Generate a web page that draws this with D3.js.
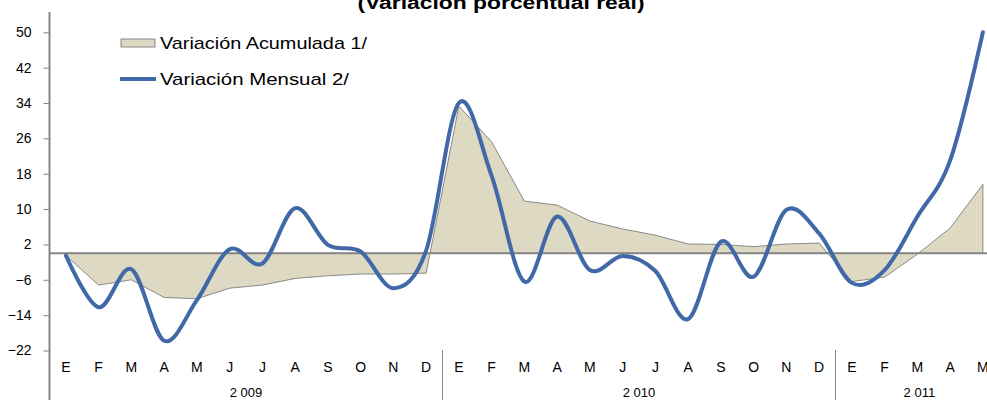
<!DOCTYPE html>
<html>
<head>
<meta charset="utf-8">
<script src="https://cdn.jsdelivr.net/npm/d3@7"></script>
<style>
  html, body { margin: 0; padding: 0; background: #fff; }
  svg { display: block; font-family: "Liberation Sans", Arial, sans-serif; }
</style>
</head>
<body>
<svg id="chart" width="987" height="400"></svg>
<script>
// Month letters and years on the category axis
var monthLetters = ["E", "F", "M", "A", "M", "J", "J", "A", "S", "O", "N", "D"];
var years = ["2 009", "2 010", "2 011"];
var monthsInYear = [12, 12, 5];

// Variacion Mensual 2/ (smoothed line)
var mensual = [-0.5, -12.2, -3.6, -19.8, -10.6, 0.9, -2.3, 10.2, 1.9, 0.4, -7.9, 0.6,
               34, 17.5, -6.4, 8.3, -3.8, -0.6, -4, -14.9, 2.6, -5.3, 9.8, 4.5,
               -6.7, -3.8, 8.3, 21, 50];

// Variacion Acumulada 1/ (area)
var acumulada = [-0.5, -7.2, -6, -10, -10.3, -7.9, -7.2, -5.7, -5.1, -4.7, -4.7, -4.5,
                 33.3, 25.2, 11.8, 10.9, 7.3, 5.5, 4.1, 2.1, 2.0, 1.5, 2.1, 2.3,
                 -6.4, -5.4, -0.2, 5.7, 15.6];

var yTicks = [-22, -14, -6, 2, 10, 18, 26, 34, 42, 50];

// Build category list: one entry per month
var categories = [];
years.forEach(function (yr, yi) {
    for (var m = 0; m < monthsInYear[yi]; m++) {
        categories.push({ key: yr + "-" + m, letter: monthLetters[m], year: yi });
    }
});

var svg = d3.select("#chart");

var step = 32.75;
var left = 49.5;

var x = d3.scaleBand()
    .domain(categories.map(function (c) { return c.key; }))
    .range([left, left + categories.length * step])
    .padding(0);

function cx(i) {
    return x(categories[i].key) + x.bandwidth() / 2;
}

var y = d3.scaleLinear()
    .domain([-22, 54])
    .range([350.5, 14.6]);

var tan = "#ddd9c3";
var blue = "#4269a7";
var axisGray = "#868686";

// Title (cut at the top of the picture)
svg.append("text")
    .attr("x", 501)
    .attr("y", 9)
    .attr("text-anchor", "middle")
    .attr("font-weight", "bold")
    .attr("font-size", 18)
    .attr("textLength", 287)
    .attr("lengthAdjust", "spacingAndGlyphs")
    .attr("fill", "#000")
    .text("(Variación porcentual real)");

// Area for accumulated variation
var area = d3.area()
    .x(function (d, i) { return cx(i); })
    .y0(y(0))
    .y1(function (d) { return y(d); });

svg.append("path")
    .datum(acumulada)
    .attr("d", area)
    .attr("fill", tan)
    .attr("stroke", "#707070")
    .attr("stroke-width", 0.8);

// Zero line (horizontal axis)
svg.append("line")
    .attr("x1", left)
    .attr("x2", 987)
    .attr("y1", y(0))
    .attr("y2", y(0))
    .attr("stroke", axisGray)
    .attr("stroke-width", 2);

// Y axis
var yAxis = d3.axisLeft(y)
    .tickValues(yTicks)
    .tickSize(6)
    .tickPadding(12)
    .tickFormat(d3.format("d"));

var gy = svg.append("g")
    .attr("transform", "translate(" + left + ",0)")
    .call(yAxis);

gy.select(".domain").remove();
gy.selectAll(".tick line").attr("stroke", axisGray);
gy.selectAll(".tick text")
    .attr("font-size", 14)
    .attr("fill", "#000")
    .style("font-family", "Liberation Sans, Arial, sans-serif");

svg.append("line")
    .attr("x1", left).attr("x2", left)
    .attr("y1", 12).attr("y2", 400)
    .attr("stroke", axisGray)
    .attr("stroke-width", 2);

// Month labels
svg.append("g")
    .selectAll("text")
    .data(categories)
    .enter()
    .append("text")
    .attr("x", function (d, i) { return cx(i); })
    .attr("y", 372)
    .attr("text-anchor", "middle")
    .attr("font-size", 14)
    .attr("fill", "#000")
    .text(function (d) { return d.letter; });

// Year labels and separators
var start = 0;
years.forEach(function (yr, yi) {
    var first = start;
    var last = start + monthsInYear[yi] - 1;
    var mid = (cx(first) + cx(last)) / 2;
    if (yi === years.length - 1) mid = cx(first) + 2 * step + 2;
    svg.append("text")
        .attr("x", mid)
        .attr("y", 397)
        .attr("text-anchor", "middle")
        .attr("font-size", 13)
        .attr("fill", "#000")
        .text(yr);
    if (yi > 0) {
        var sx = x(categories[first].key);
        svg.append("line")
            .attr("x1", sx).attr("x2", sx)
            .attr("y1", 350).attr("y2", 400)
            .attr("stroke", axisGray)
            .attr("stroke-width", 1);
    }
    start += monthsInYear[yi];
});

// Monthly variation line, smoothed
var line = d3.line()
    .x(function (d, i) { return cx(i); })
    .y(function (d) { return y(d); })
    .curve(d3.curveCardinal.tension(0));

svg.append("path")
    .datum(mensual)
    .attr("d", line)
    .attr("fill", "none")
    .attr("stroke", blue)
    .attr("stroke-width", 4)
    .attr("stroke-linecap", "round")
    .attr("stroke-linejoin", "round");

// Legend
var legend = svg.append("g");

legend.append("rect")
    .attr("x", 121).attr("y", 39)
    .attr("width", 34).attr("height", 8)
    .attr("fill", tan)
    .attr("stroke", "#707070")
    .attr("stroke-width", 0.8);

legend.append("text")
    .attr("x", 160).attr("y", 48.5)
    .attr("font-size", 17)
    .attr("textLength", 207)
    .attr("lengthAdjust", "spacingAndGlyphs")
    .attr("fill", "#000")
    .text("Variación Acumulada 1/");

legend.append("line")
    .attr("x1", 120).attr("x2", 156)
    .attr("y1", 79).attr("y2", 79)
    .attr("stroke", blue)
    .attr("stroke-width", 4);

legend.append("text")
    .attr("x", 160).attr("y", 84.5)
    .attr("font-size", 17)
    .attr("textLength", 189)
    .attr("lengthAdjust", "spacingAndGlyphs")
    .attr("fill", "#000")
    .text("Variación Mensual 2/");
</script>
</body>
</html>
